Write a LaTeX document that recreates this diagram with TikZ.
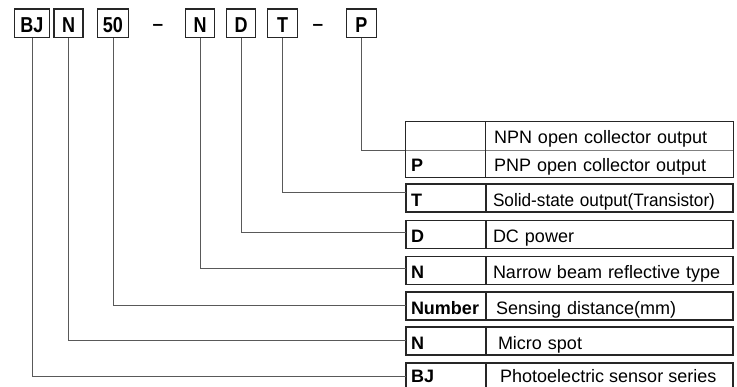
\documentclass[tikz,border=0pt]{standalone}
\usepackage{fontspec}
\setmainfont{Liberation Sans}
\begin{document}
\begin{tikzpicture}[x=1pt,y=-1pt,
  codebox/.style={draw=black!85, line width=1.1pt, minimum height=28.5pt, inner sep=0pt,
    text height=18.5pt, text depth=0pt, font=\bfseries\fontsize{18}{18}\selectfont},
  dashtext/.style={anchor=base, inner sep=0pt, font=\bfseries\fontsize{19}{19}\selectfont},
  keycell/.style={draw=black!85, line width=1.2pt, minimum width=80pt, minimum height=28pt,
    inner xsep=5pt, inner ysep=0pt, text width=70pt, align=left, text height=16pt,
    text depth=0pt, font=\bfseries\fontsize{18}{18}\selectfont},
  desccell/.style={draw=black!85, line width=1.2pt, minimum width=247pt, minimum height=28pt,
    inner xsep=8pt, inner ysep=0pt, text width=231pt, align=left, text height=16pt,
    text depth=0pt, font=\fontsize{18}{18}\selectfont},
  plaincell/.style={keycell, draw=none},
  plaindesc/.style={desccell, draw=none},
  keytext/.style={anchor=base west, inner sep=0pt, font=\bfseries\fontsize{18}{18}\selectfont},
  desctext/.style={anchor=base west, inner sep=0pt, font=\fontsize{18}{18}\selectfont},
  frame/.style={draw=black!85, line width=1.2pt},
  thinrule/.style={draw=black!50, line width=0.8pt},
  link/.style={draw=black!65, line width=1pt},
]
\useasboundingbox (0,0) rectangle (737,386);
\clip (0,0) rectangle (737,386);

% ---- top code boxes ----
\node[codebox, minimum width=35pt] (tBJ) at (32,23.25) {\scalebox{1}[1.2]{BJ}};
\node[codebox, minimum width=29pt] (tN)  at (68.5,23.25) {\scalebox{1}[1.2]{N}};
\node[codebox, minimum width=31pt] (t50) at (113,23.25) {\scalebox{1}[1.2]{50}};
\node[dashtext] (dashA) at (158,30) {–};
\node[codebox, minimum width=29pt] (tNN) at (200,23.25) {\scalebox{1}[1.2]{N}};
\node[codebox, minimum width=29pt] (tD)  at (241,23.25) {\scalebox{1}[1.2]{D}};
\node[codebox, minimum width=30pt] (tT)  at (282.5,23.25) {\scalebox{1}[1.2]{T}};
\node[dashtext] (dashB) at (318,30) {–};
\node[codebox, minimum width=30pt] (tP)  at (361.5,23.25) {\scalebox{1}[1.2]{P}};

% ---- table: output row pair ----
\node[plaincell, minimum height=27.5pt] (k1) at (446,135.75) {};
\node[plaindesc, minimum height=27.5pt] (d1) at (609.5,135.75) {NPN open collector output};
\node[plaincell, minimum height=27.5pt] (k2) at (446,163.25) {P};
\node[plaindesc, minimum height=27.5pt] (d2) at (609.5,163.25) {PNP open collector output};
\draw[thinrule] (k1.south west) -- (d1.south east);
\draw[frame] (k1.north west) rectangle (d2.south east);
\draw[frame] (d1.north west) -- (d2.south west);

% ---- table: single rows ----
\node[keycell] (kT) at (446,198) {T};
\node[desccell, inner xsep=7pt, text width=233pt] (dT) at (609.5,198) {\scalebox{0.955}[1]{Solid-state output(Transistor)}};
\node[keycell] (kD) at (446,234.5) {D};
\node[desccell, inner xsep=7pt, text width=233pt] (dD) at (609.5,234.5) {DC power};
\node[keycell] (kN) at (446,270.5) {N};
\node[desccell, inner xsep=7pt, text width=233pt] (dN) at (609.5,270.5) {Narrow beam reflective type};
\node[keycell] (kNum) at (446,306) {Number};
\node[desccell, inner xsep=10pt, text width=227pt] (dNum) at (609.5,306) {Sensing distance(mm)};
\node[keycell] (kM) at (446,341) {N};
\node[desccell, inner xsep=12pt, text width=223pt] (dM) at (609.5,341) {Micro spot};
% last row runs past the lower edge, as in the reference
\node[keycell] (kBJ) at (446,377) {};
\node[desccell] (dBJ) at (609.5,377) {};
\node[keytext] (kBJt) at (411,382.5) {BJ};
\node[desctext] (dBJt) at (500,382.5) {Photoelectric sensor series};

% ---- connector end points on the table's left edge ----
\coordinate (cP)   at (k1.south west);
\coordinate (cT)   at (406,192);
\coordinate (cD)   at (406,232);
\coordinate (cN)   at (406,268);
\coordinate (cNum) at (406,305);
\coordinate (cM)   at (406,340);
\coordinate (cBJ)  at (406,376);

% ---- connectors ----
\draw[link] (tP.south)  |- (cP);
\draw[link] (tT.south)  |- (cT);
\draw[link] (tD.south)  |- (cD);
\draw[link] (tNN.south) |- (cN);
\draw[link] (t50.south) |- (cNum);
\draw[link] (tN.south)  |- (cM);
\draw[link] (tBJ.south) |- (cBJ);
\end{tikzpicture}
\end{document}
